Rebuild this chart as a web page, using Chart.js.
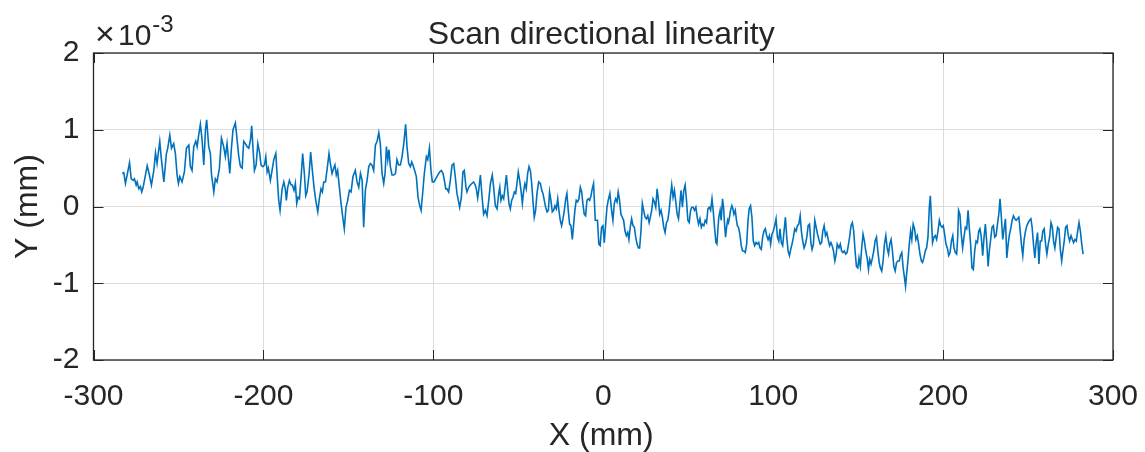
<!DOCTYPE html>
<html>
<head>
<meta charset="utf-8">
<script src="https://cdn.jsdelivr.net/npm/chart.js@4/dist/chart.umd.min.js"></script>
<style>
  html, body { margin: 0; padding: 0; background: #ffffff; }
  #wrap { width: 1145px; height: 452px; position: relative; }
</style>
</head>
<body>
<div id="wrap"><canvas id="c" width="1145" height="452"></canvas></div>
<script>
// Scan position along the stage (mm)
const positionMm = [
  -283.1,-282.2,-281.2,-280.2,-278.8,-277.8,-276.7,-275.9,-274.9,-274.3,
  -273.3,-272.4,-271.6,-270.8,-269.6,-268.4,-267.3,-265.9,-264.5,-263.5,
  -262.6,-261.0,-260.2,-258.6,-257.1,-256.3,-255.1,-254.1,-252.8,-251.8,
  -250.8,-250.0,-249.2,-247.9,-246.5,-245.3,-243.9,-243.0,-242.0,-241.0,
  -239.8,-239.0,-238.1,-237.1,-236.1,-235.1,-234.1,-233.4,-232.2,-231.2,
  -230.6,-229.2,-228.3,-227.3,-225.9,-224.7,-223.4,-222.4,-221.4,-219.8,
  -218.9,-217.9,-216.5,
  -215.9,-214.5,-213.5,-212.5,-211.6,-210.6,-209.6,-208.6,-207.6,-206.9,
  -206.1,-205.3,-204.3,-203.3,-202.3,-201.4,-200.4,-199.4,-198.6,-197.8,
  -197.1,-195.9,-194.9,-193.9,-192.7,-192.0,-191.0,-190.2,-189.0,-188.0,
  -187.1,-186.5,-185.7,-184.7,-183.7,-183.0,-182.0,-181.2,-180.4,-179.6,
  -178.8,-177.8,-176.9,-175.9,-175.1,-174.3,-173.1,-172.2,-171.2,-170.2,
  -169.2,-168.0,-167.1,-166.1,-165.3,-164.5,-163.5,-162.6,-161.4,-160.6,
  -159.6,-158.6,-157.9,-157.1,-156.3,-155.3,-154.3,-153.3,-152.4,-151.4,
  -150.4,-149.4,-148.4,-147.3,-145.9,
  -144.9,-143.9,-142.9,-141.9,-141.0,-140.0,-139.0,-138.0,-137.0,-136.1,
  -135.1,-134.1,-133.1,-132.1,-131.2,-130.2,-129.2,-128.4,-127.6,-126.8,
  -126.1,-125.3,-124.3,-123.3,-122.3,-121.4,-120.4,-119.4,-118.4,-117.4,
  -116.3,-115.5,-114.5,-113.5,-112.7,-112.0,-111.0,-110.0,-109.0,-108.0,
  -107.2,-106.3,-105.3,-104.1,-103.3,-102.3,-101.4,-100.6,-99.6,-98.6,
  -97.4,-96.3,-95.3,-94.3,-93.5,-92.7,-92.0,-91.0,-90.0,-89.0,
  -88.0,-87.1,-86.1,-85.3,-84.5,-83.5,-82.6,-81.8,-80.8,-80.2,
  -79.2,-78.2,-77.3,-76.3,-75.3,
  -74.7,-73.9,-73.3,-72.3,-71.3,-70.4,-69.4,-68.4,-67.4,-66.4,
  -65.3,-64.5,-63.5,-62.5,-61.5,-60.9,-60.2,-59.4,-58.6,-57.8,
  -57.0,-56.2,-55.5,-54.7,-53.9,-53.1,-52.3,-51.5,-50.8,-50.0,
  -49.2,-48.4,-47.6,-46.8,-46.1,-45.3,-44.5,-43.7,-42.9,-42.1,
  -41.4,-40.6,-39.8,-39.0,-38.0,-37.0,-36.2,-35.5,-34.7,-33.9,
  -33.1,-32.3,-31.6,-30.8,-30.0,-29.2,-28.4,-27.6,-26.8,-26.1,
  -25.3,-24.5,-23.7,-22.9,-22.1,-21.4,-20.6,-19.8,-19.0,-18.2,
  -17.4,-16.7,-15.9,-15.1,-14.3,-13.5,-12.7,-12.0,-11.2,-10.4,
  -9.6,-8.8,-8.0,-7.2,-6.5,-5.7,-4.7,
  -3.4,-2.6,-1.8,-1.0,-0.2,0.6,1.4,2.2,2.9,3.9,
  4.9,5.7,6.5,7.3,8.1,8.8,9.6,10.4,11.2,12.0,
  12.8,13.6,14.4,15.1,15.9,16.7,17.5,18.3,19.1,19.9,
  20.7,21.4,22.2,23.0,23.8,24.6,25.4,26.2,27.0,27.7,
  28.5,29.3,30.1,30.9,31.7,32.5,33.2,34.0,34.8,35.6,
  36.4,37.2,38.0,38.8,39.5,40.3,41.1,41.9,42.7,43.5,
  44.3,45.1,45.8,46.6,47.4,48.2,49.0,49.8,50.6,51.4,
  52.1,52.9,53.7,54.5,55.3,56.1,56.9,57.7,58.4,59.2,
  60.0,60.8,61.6,62.4,63.2,64.0,64.7,65.5,66.3,66.9,
  67.4,68.0,68.8,69.4,70.2,70.8,71.4,72.0,72.6,73.2,
  73.7,74.3,74.9,75.7,76.3,76.9,77.7,78.3,78.9,79.6,
  80.4,81.2,82.0,82.8,83.6,84.4,85.2,85.9,86.7,87.5,
  88.3,89.1,89.9,90.7,91.5,92.2,93.0,93.8,94.6,95.4,
  96.2,97.0,97.8,98.5,99.3,100.1,100.9,101.7,102.5,103.3,
  104.0,104.8,105.6,106.4,107.2,108.0,108.8,109.6,110.3,111.1,
  111.9,112.7,113.5,114.3,115.1,115.9,116.6,117.4,118.2,119.0,
  119.8,120.6,121.4,122.2,122.9,123.7,124.5,125.3,126.1,126.9,
  127.7,128.5,129.2,130.0,130.8,131.6,132.4,133.2,134.0,134.7,
  135.5,136.3,137.1,137.7,
  138.7,139.5,140.3,141.1,141.9,142.7,143.5,144.2,145.0,145.8,
  146.6,147.4,148.2,149.0,149.8,150.5,151.3,152.1,152.9,153.7,
  154.5,155.3,156.1,156.8,157.6,158.4,159.2,160.0,160.8,161.6,
  162.4,163.1,163.9,164.7,165.5,166.3,167.1,167.9,168.6,169.4,
  170.2,171.0,171.8,172.6,173.4,174.2,174.9,175.7,176.5,177.3,
  177.9,178.5,179.3,180.1,180.9,181.6,182.4,183.2,184.0,184.8,
  185.6,186.4,187.2,187.9,188.7,189.5,190.3,191.1,191.9,192.5,
  193.1,193.8,194.6,195.4,196.2,197.0,197.8,198.6,199.4,200.1,
  200.9,201.7,202.5,203.3,204.1,204.9,205.7,206.4,207.2,208.0,
  208.6,209.1,209.9,210.7,211.5,212.3,213.1,213.9,214.7,215.4,
  216.2,217.0,217.8,218.6,219.4,220.2,221.0,221.7,222.5,223.3,
  224.1,224.9,225.7,226.5,227.2,228.0,228.8,229.6,230.4,231.2,
  232.0,232.8,233.5,234.3,235.1,235.9,236.7,237.5,238.3,239.1,
  239.8,240.6,241.4,242.2,243.0,243.8,244.6,245.4,246.1,246.9,
  247.7,248.5,249.3,250.1,250.9,251.7,252.4,253.2,254.0,254.8,
  255.6,256.4,257.2,258.0,258.7,259.5,260.3,261.1,261.9,262.7,
  263.5,264.3,265.0,265.8,266.6,267.4,268.2,269.0,269.8,270.5,
  271.3,272.1,272.9,273.7,274.5,275.3,276.1,276.8,277.6,278.4,
  279.2,280.0,280.8,281.6,282.4
];

// Lateral deviation, in units of 1e-3 mm (axis carries the x10^-3 multiplier)
const deviationE3 = [
  0.43,0.44,0.30,0.41,0.57,0.36,0.34,0.36,0.28,0.32,
  0.23,0.26,0.19,0.25,0.39,0.53,0.43,0.28,0.47,0.70,
  0.56,0.85,0.65,0.32,0.69,0.76,0.93,0.76,0.82,0.69,
  0.41,0.30,0.39,0.32,0.45,0.76,0.80,0.52,0.47,0.78,
  0.85,0.78,0.93,1.07,0.87,0.54,1.00,1.13,0.78,0.69,
  0.43,0.19,0.36,0.32,0.50,0.89,0.78,0.65,0.82,0.43,
  0.74,1.00,1.09,
  0.96,0.65,0.52,0.50,0.85,0.82,0.78,0.76,0.87,1.05,
  0.74,0.47,0.54,0.82,0.71,0.54,0.52,0.54,0.65,0.45,
  0.50,0.34,0.47,0.61,0.69,0.43,0.08,-0.05,0.23,0.32,
  0.23,0.08,0.25,0.34,0.28,0.28,0.21,0.30,0.04,0.12,
  0.10,0.39,0.69,0.43,0.14,0.19,0.43,0.71,0.47,0.25,
  0.08,-0.07,0.10,0.23,0.19,0.32,0.32,0.47,0.69,0.56,
  0.43,0.50,0.54,0.41,0.47,0.25,0.04,-0.14,-0.29,-0.01,
  0.08,0.21,0.19,0.39,0.47,
  0.32,0.25,0.43,0.34,-0.27,0.21,0.34,0.52,0.56,0.54,
  0.47,0.80,0.85,0.96,0.82,0.43,0.30,0.43,0.78,0.61,
  0.74,0.52,0.41,0.41,0.43,0.61,0.54,0.54,0.65,0.82,
  1.07,0.78,0.56,0.52,0.58,0.54,0.47,0.39,0.12,0.01,
  -0.05,0.17,0.43,0.65,0.61,0.76,0.47,0.32,0.32,0.36,
  0.41,0.45,0.47,0.43,0.34,0.23,0.23,0.19,0.34,0.54,
  0.56,0.39,0.17,0.08,-0.01,0.12,0.45,0.47,0.25,0.19,
  0.25,0.28,0.30,0.32,0.28,
  0.23,0.11,0.21,0.41,0.12,-0.10,-0.05,-0.12,0.08,0.30,
  0.41,0.25,0.01,-0.03,0.17,0.25,0.08,0.14,0.10,0.25,
  0.41,0.21,0.04,-0.03,0.08,0.12,0.19,0.17,0.30,0.45,
  0.34,0.21,0.04,0.21,0.30,0.23,0.43,0.52,0.47,0.30,
  0.08,-0.14,-0.05,0.17,0.32,0.30,0.21,0.17,0.08,-0.01,
  -0.07,-0.05,0.19,0.08,-0.07,-0.05,0.01,-0.03,0.10,-0.05,
  -0.18,-0.25,-0.16,-0.05,0.10,0.17,-0.05,-0.23,-0.25,-0.43,
  -0.23,-0.05,0.08,0.06,0.10,0.25,0.19,0.04,-0.10,-0.12,
  0.08,0.10,0.08,0.14,0.23,0.30,-0.18,
  -0.18,-0.49,-0.51,-0.27,-0.25,-0.47,-0.23,-0.01,0.08,0.17,
  -0.05,-0.18,0.04,0.10,0.06,0.19,0.08,-0.10,-0.14,-0.18,
  -0.32,-0.38,-0.34,-0.43,-0.27,-0.16,-0.25,-0.27,-0.40,-0.49,
  -0.54,-0.54,-0.32,0.04,-0.05,-0.14,-0.16,-0.12,-0.21,-0.14,
  -0.05,0.10,0.06,-0.01,0.23,0.08,-0.10,-0.05,-0.14,-0.27,
  -0.34,-0.21,-0.18,-0.05,0.12,0.28,0.12,0.21,0.06,-0.10,
  -0.16,0.04,0.21,-0.01,0.21,0.28,0.08,-0.18,-0.21,-0.05,
  -0.01,-0.01,-0.05,-0.01,-0.14,-0.23,-0.16,-0.27,-0.23,-0.25,
  -0.18,-0.21,-0.03,-0.01,-0.05,0.10,-0.05,-0.27,-0.47,-0.49,
  -0.32,-0.14,-0.05,-0.18,0.10,-0.01,-0.23,-0.40,-0.27,-0.18,
  -0.21,-0.14,-0.05,0.01,-0.03,-0.10,-0.05,-0.16,-0.25,-0.27,
  -0.36,-0.51,-0.58,-0.58,-0.60,-0.49,-0.18,-0.03,0.01,-0.14,
  -0.45,-0.51,-0.47,-0.49,-0.47,-0.54,-0.56,-0.40,-0.32,-0.29,
  -0.38,-0.43,-0.38,-0.49,-0.36,-0.32,-0.25,-0.16,-0.40,-0.45,
  -0.29,-0.47,-0.51,-0.32,-0.14,-0.40,-0.58,-0.64,-0.56,-0.49,
  -0.40,-0.29,-0.32,-0.25,-0.23,-0.12,-0.32,-0.45,-0.54,-0.49,
  -0.40,-0.25,-0.23,-0.47,-0.56,-0.49,-0.18,-0.27,-0.36,-0.43,
  -0.49,-0.47,-0.32,-0.25,-0.38,-0.34,-0.43,-0.51,-0.47,-0.51,
  -0.58,-0.71,-0.62,-0.49,
  -0.54,-0.49,-0.58,-0.60,-0.58,-0.62,-0.60,-0.51,-0.40,-0.25,
  -0.21,-0.32,-0.58,-0.78,-0.80,-0.67,-0.78,-0.54,-0.36,-0.45,
  -0.58,-0.67,-0.82,-0.69,-0.75,-0.67,-0.58,-0.45,-0.40,-0.58,
  -0.73,-0.80,-0.84,-0.71,-0.49,-0.38,-0.54,-0.62,-0.49,-0.43,
  -0.58,-0.78,-0.84,-0.73,-0.71,-0.71,-0.64,-0.60,-0.80,-0.93,
  -1.04,-0.89,-0.71,-0.49,-0.32,-0.43,-0.23,-0.29,-0.43,-0.38,
  -0.49,-0.62,-0.71,-0.73,-0.67,-0.58,-0.54,-0.40,-0.01,0.14,
  -0.14,-0.47,-0.40,-0.38,-0.43,-0.32,-0.18,-0.25,-0.27,-0.25,
  -0.36,-0.49,-0.54,-0.64,-0.60,-0.45,-0.38,-0.54,-0.60,-0.62,
  -0.40,-0.05,-0.10,-0.36,-0.54,-0.40,-0.27,-0.29,-0.05,-0.27,
  -0.49,-0.80,-0.82,-0.58,-0.45,-0.47,-0.32,-0.29,-0.40,-0.64,
  -0.40,-0.23,-0.47,-0.78,-0.58,-0.43,-0.27,-0.25,-0.40,-0.38,
  -0.23,-0.10,0.10,-0.14,-0.43,-0.29,-0.16,-0.67,-0.49,-0.36,
  -0.29,-0.18,-0.12,-0.16,-0.18,-0.16,-0.14,-0.32,-0.49,-0.64,
  -0.43,-0.32,-0.25,-0.21,-0.18,-0.16,-0.27,-0.49,-0.67,-0.47,
  -0.34,-0.75,-0.45,-0.45,-0.32,-0.29,-0.49,-0.62,-0.49,-0.40,
  -0.21,-0.27,-0.45,-0.54,-0.40,-0.27,-0.29,-0.56,-0.71,-0.58,
  -0.45,-0.27,-0.25,-0.38,-0.45,-0.38,-0.43,-0.47,-0.43,-0.45,
  -0.32,-0.21,-0.32,-0.49,-0.62
];

const xTicks = [-300, -200, -100, 0, 100, 200, 300];
const yTicks = [-2, -1, 0, 1, 2];
const titleText = 'Scan directional linearity';
const xLabel = 'X (mm)';
const yLabel = 'Y (mm)';
const multiplierSign = '\u00D7';
const multiplierBase = '10';
const multiplierExp = '-3';

const FONT = '"Liberation Sans", Arial, Helvetica, sans-serif';
const INK = '#262626';
const TICK_PX = 30;
const LABEL_PX = 32;

const trace = positionMm.map((x, i) => ({ x: x, y: deviationE3[i] }));

// Box, inward tick marks, title, axis labels and the exponent note
const axesDecor = {
  id: 'axesDecor',
  afterDraw(chart) {
    const { ctx, chartArea: a, scales } = chart;
    const sx = scales.x, sy = scales.y;
    const tickLen = 10;
    ctx.save();
    ctx.strokeStyle = INK;
    ctx.lineWidth = 1;
    ctx.beginPath();
    xTicks.forEach(v => {
      const p = Math.round(sx.getPixelForValue(v)) + 0.5;
      ctx.moveTo(p, a.bottom); ctx.lineTo(p, a.bottom - tickLen);
      ctx.moveTo(p, a.top); ctx.lineTo(p, a.top + tickLen);
    });
    yTicks.forEach(v => {
      const p = Math.round(sy.getPixelForValue(v)) + 0.5;
      ctx.moveTo(a.left, p); ctx.lineTo(a.left + tickLen, p);
      ctx.moveTo(a.right, p); ctx.lineTo(a.right - tickLen, p);
    });
    ctx.stroke();
    ctx.lineWidth = 1.3;
    ctx.strokeRect(a.left, a.top, a.right - a.left, a.bottom - a.top);

    ctx.fillStyle = INK;
    // title
    ctx.font = LABEL_PX + 'px ' + FONT;
    ctx.textAlign = 'center';
    ctx.textBaseline = 'alphabetic';
    const cx = (a.left + a.right) / 2;
    ctx.fillText(titleText, cx - 2, 44);
    // x label
    ctx.fillText(xLabel, cx - 2, 445);
    // y label, rotated
    ctx.save();
    ctx.translate(37, (a.top + a.bottom) / 2);
    ctx.rotate(-Math.PI / 2);
    ctx.fillText(yLabel, 0, 0);
    ctx.restore();
    // x10^-3 note above the y axis
    ctx.textAlign = 'left';
    ctx.font = '34px ' + FONT;
    ctx.fillText(multiplierSign, 95, 45);
    ctx.font = TICK_PX + 'px ' + FONT;
    ctx.fillText(multiplierBase, 118, 45);
    const w = ctx.measureText(multiplierBase).width;
    ctx.font = '24px ' + FONT;
    ctx.fillText(multiplierExp, 118 + w + 1, 32);
    ctx.restore();
  }
};

new Chart(document.getElementById('c'), {
  type: 'scatter',
  data: {
    datasets: [{
      data: trace,
      showLine: true,
      borderColor: '#0072BD',
      backgroundColor: '#0072BD',
      borderWidth: 1.6,
      pointRadius: 0,
      pointHoverRadius: 0,
      tension: 0,
      fill: false
    }]
  },
  options: {
    responsive: false,
    animation: false,
    devicePixelRatio: 1,
    layout: { padding: { top: 53, right: 32, bottom: 0, left: 0 } },
    plugins: { legend: { display: false }, title: { display: false }, tooltip: { enabled: false } },
    scales: {
      x: {
        type: 'linear',
        min: -300, max: 300,
        afterFit: s => { s.height = 92; s.paddingLeft = 0; s.paddingRight = 0; },
        afterBuildTicks: s => { s.ticks = xTicks.map(v => ({ value: v })); },
        grid: { color: '#dcdcdc', lineWidth: 1, drawTicks: false },
        border: { display: false },
        ticks: {
          autoSkip: false, maxRotation: 0, padding: 19,
          color: INK, font: { family: FONT, size: TICK_PX }
        }
      },
      y: {
        type: 'linear',
        min: -2, max: 2,
        afterFit: s => { s.width = 93.5; s.paddingTop = 0; s.paddingBottom = 0; },
        afterBuildTicks: s => { s.ticks = yTicks.map(v => ({ value: v })); },
        grid: { color: '#dcdcdc', lineWidth: 1, drawTicks: false },
        border: { display: false },
        ticks: {
          autoSkip: false, padding: 14,
          color: INK, font: { family: FONT, size: TICK_PX }
        }
      }
    }
  },
  plugins: [axesDecor]
});
</script>
</body>
</html>
